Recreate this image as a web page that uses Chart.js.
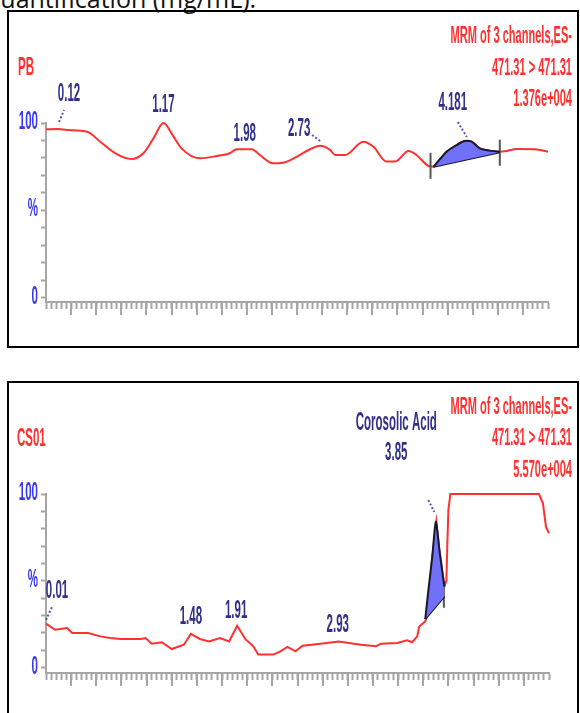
<!DOCTYPE html>
<html>
<head>
<meta charset="utf-8">
<script src="https://cdn.jsdelivr.net/npm/chart.js@4.4.1/dist/chart.umd.min.js"></script>
<style>
  html, body { margin: 0; padding: 0; background: #fff; }
  body { width: 580px; height: 713px; position: relative; overflow: hidden; }
  #caption { position: absolute; left: -15px; top: -14px; font: 25px/24px "Open Sans", sans-serif; color: #111; white-space: nowrap; }
  .panel { position: absolute; left: 7px; width: 572px; box-sizing: border-box; border: 2px solid #000; }
  canvas { position: absolute; left: 0; }
</style>
</head>
<body>
<div id="caption">quantification (mg/mL).</div>
<div class="panel" style="top:10px;height:338px"></div>
<div class="panel" style="top:381px;height:345px"></div>
<canvas id="pbChart" width="580" height="360" style="top:0"></canvas>
<canvas id="csChart" width="580" height="353" style="top:360px"></canvas>
<script>
// x = retention time (min), y = relative intensity (%)
const yTicks = [0, 10, 20, 30, 40, 50, 60, 70, 80, 90, 100];
const yLabelValues = [100, 50, 0];
const yLabelTexts = ['100', '%', '0'];

// PB channel
const pbChannel = 'PB';
const pbHeader = ['MRM of 3 channels,ES-', '471.31 > 471.31', '1.376e+004'];
const pbTimes = [0.00,0.12,0.21,0.41,0.54,0.70,0.85,0.97,1.07,1.17,1.27,1.35,1.53,1.70,1.83,1.90,2.05,2.13,2.26,2.36,2.50,2.63,2.73,2.83,2.88,2.98,3.16,3.26,3.39,3.48,3.61,3.69,3.81,3.86,3.99,4.09,4.17,4.24,4.32,4.42,4.52,4.59,4.69,4.87,5.00];
const pbIntensity = [96.4,96.5,96,95,89.3,82.3,79.4,82.7,91.2,100,92.2,85.5,79.8,81.1,82.7,85,85,81.7,77,77.3,80.8,85,87,84.6,81.7,81.7,89.3,86.5,78,78,84,81.7,75.4,75,83.6,87.4,89.7,89.3,85.5,84.2,83.6,84,85.1,85,83.6];
const pbAreaTimes = [3.86,3.99,4.09,4.17,4.24,4.32,4.42,4.52];
const pbAreaIntensity = [75,83.6,87.4,89.7,89.3,85.5,84.2,83.6];
const pbBaseTimes = [3.86, 4.52];
const pbBaseIntensity = [75, 83.2];
const pbCutTimes = [3.83, 4.52];
const pbCutIntensity = [75.5, 83];
const pbPeakRT = [0.12, 1.17, 1.98, 2.73, 4.181];
const pbPeakLabels = ['0.12', '1.17', '1.98', '2.73', '4.181'];
const pbPeakNames = ['', '', '', '', ''];

// CS01 channel
const csChannel = 'CS01';
const csHeader = ['MRM of 3 channels,ES-', '471.31 > 471.31', '5.570e+004'];
const csTimes = [0.00,0.09,0.21,0.26,0.42,0.54,0.64,0.74,0.94,0.99,1.05,1.15,1.25,1.37,1.44,1.53,1.62,1.73,1.82,1.90,1.98,2.06,2.11,2.26,2.33,2.40,2.48,2.55,2.73,2.91,3.13,3.28,3.33,3.49,3.59,3.64,3.69,3.71,3.77,3.78,3.81,3.84,3.88,3.91,3.94,3.96,3.98,3.99,4.00,4.02,4.90,4.94,4.97,5.00];
const csIntensity = [25.3,21.8,22.8,19.9,19.9,18,17,16.5,16.5,17,13.8,14.6,10.7,13.2,19.4,16.5,15.1,17,15.1,24.1,16.5,12.3,7.5,7.5,9.4,11.9,9.4,12.6,13.8,15.1,13.2,12.3,13.8,14.2,15.7,14.6,18,23.7,26.6,28.5,45,64,84,68,55,46.7,50,72,91,100,100,94.6,81,77.4];
const csAreaTimes = [3.77,3.80,3.84,3.875,3.91,3.94,3.96];
const csAreaIntensity = [28,44,64,84,68,55,46.7];
const csBaseTimes = [3.77, 3.96];
const csBaseIntensity = [28, 41];
const csCutTimes = [3.955];
const csCutIntensity = [42];
const csPeakRT = [0.01, 1.48, 1.91, 2.93, 3.85];
const csPeakLabels = ['0.01', '1.48', '1.91', '2.93', '3.85'];
const csPeakNames = ['', '', '', '', 'Corosolic Acid'];

const RED = '#ff3030', NAVY = '#30308a', BLUE = '#3838f0', GRAY = '#a6a6a6';
const SQUEEZE = 0.46; // the instrument font is very narrow

function pts(xs, ys) { return xs.map((x, i) => ({ x: x, y: ys[i] })); }

function squeezed(ctx, text, x, yMid, size, color, align) {
  ctx.save();
  ctx.font = 'bold ' + size + 'px "Liberation Sans", Arial, sans-serif';
  ctx.fillStyle = color;
  ctx.textAlign = align || 'center';
  ctx.textBaseline = 'alphabetic';
  ctx.translate(x, yMid + size * 0.36);
  ctx.scale(SQUEEZE, 1);
  ctx.fillText(text, 0, 0);
  ctx.restore();
}

// labels, long ticks, peak annotations
const msText = {
  id: 'msText',
  afterDraw(chart, args, o) {
    const ctx = chart.ctx, x = chart.scales.x, y = chart.scales.y;
    const top = y.getPixelForValue(100);

    squeezed(ctx, o.channel, o.channelAt[0], o.channelAt[1], 25, RED, 'left');
    o.header.forEach((t, i) => squeezed(ctx, t, o.headerRight, o.headerY[i], 24, RED, 'right'));
    yLabelTexts.forEach((t, i) => squeezed(ctx, t, x.left - 8, y.getPixelForValue(yLabelValues[i]) - 3, 25, BLUE, 'right'));

    ctx.save();
    ctx.strokeStyle = GRAY;
    ctx.lineWidth = 2;
    x.ticks.forEach((t, i) => {
      if (i % 5 || i === 0 || i === x.ticks.length - 1) return;
      const px = Math.round(x.getPixelForValue(t.value));
      ctx.beginPath();
      ctx.moveTo(px, x.top);
      ctx.lineTo(px, x.top + 13);
      ctx.stroke();
    });
    ctx.restore();

    o.rt.forEach((rt, i) => {
      const px = x.getPixelForValue(rt);
      const p = o.place[i];
      squeezed(ctx, o.labels[i], px + p[0], top + p[1], 25, NAVY);
      if (o.names[i]) squeezed(ctx, o.names[i], px + p[0], top + p[1] - 30, 25, NAVY);
      const l = o.leaders[i];
      if (l) {
        ctx.save();
        ctx.strokeStyle = '#5656a8';
        ctx.lineWidth = 2;
        ctx.setLineDash([2, 2]);
        ctx.beginPath();
        ctx.moveTo(px + l[0], top + l[1]);
        ctx.lineTo(px + l[2], top + l[3]);
        ctx.stroke();
        ctx.restore();
      }
    });
  }
};

function minorTicks() {
  const out = [];
  for (let k = 0; k <= 100; k++) out.push({ value: k / 20 });
  return out;
}

function buildChart(id, d, look) {
  return new Chart(document.getElementById(id), {
    type: 'line',
    data: {
      datasets: [
        { data: pts(d.areaT, d.areaI), borderColor: '#18182a', borderWidth: 2, backgroundColor: '#7070f8', fill: '+1', pointRadius: 0, tension: 0.25 },
        { data: pts(d.baseT, d.baseI), borderColor: '#18182a', borderWidth: 2, pointRadius: 0, fill: false },
        { data: pts(d.cutT, d.cutI), showLine: false, pointStyle: 'line', rotation: 90, pointRadius: 13, pointBorderColor: '#555', pointBorderWidth: 2 },
        { data: pts(d.t, d.i), borderColor: RED, borderWidth: 2, pointRadius: 0, fill: false,
          cubicInterpolationMode: look.smooth ? 'monotone' : 'default', tension: 0, clip: 6 }
      ]
    },
    options: {
      responsive: false,
      animation: false,
      events: [],
      layout: { padding: look.padding },
      plugins: { legend: { display: false }, tooltip: { enabled: false }, msText: look.text },
      scales: {
        x: {
          type: 'linear', min: 0, max: 5,
          afterBuildTicks: s => { s.ticks = minorTicks(); },
          afterFit: s => { s.height = 20; },
          ticks: { display: false },
          grid: { drawOnChartArea: false, tickLength: 7, tickWidth: 2, tickColor: GRAY },
          border: { color: GRAY, width: 2 }
        },
        y: {
          min: look.yMin, max: 100,
          afterBuildTicks: s => { s.ticks = yTicks.map(v => ({ value: v })); },
          afterFit: s => { s.width = 46; },
          ticks: { display: false },
          grid: { drawOnChartArea: false, tickLength: 5, tickWidth: 2, tickColor: GRAY },
          border: { color: GRAY, width: 2 }
        }
      }
    },
    plugins: [msText]
  });
}

buildChart('pbChart',
  { t: pbTimes, i: pbIntensity, areaT: pbAreaTimes, areaI: pbAreaIntensity,
    baseT: pbBaseTimes, baseI: pbBaseIntensity, cutT: pbCutTimes, cutI: pbCutIntensity },
  { smooth: true, yMin: -2.4,
    padding: { left: 0, right: 32, top: 123, bottom: 38 },
    text: { channel: pbChannel, channelAt: [18, 66], header: pbHeader, headerRight: 572, headerY: [34, 66, 97],
            rt: pbPeakRT, labels: pbPeakLabels, names: pbPeakNames,
            place: [[11, -31], [0, -20], [0, 9], [-21, 4], [-13, -22]],
            leaders: [[1, -1, 6, -13], null, null, [-8, 12, 0, 18], [-8, -1, 1, 14]] } });

buildChart('csChart',
  { t: csTimes, i: csIntensity, areaT: csAreaTimes, areaI: csAreaIntensity,
    baseT: csBaseTimes, baseI: csBaseIntensity, cutT: csCutTimes, cutI: csCutIntensity },
  { smooth: false, yMin: -3.1,
    padding: { left: 0, right: 31, top: 134, bottom: 20 },
    text: { channel: csChannel, channelAt: [17, 77], header: csHeader, headerRight: 572, headerY: [45, 76, 108],
            rt: csPeakRT, labels: csPeakLabels, names: csPeakNames,
            place: [[10, 95], [-4, 121], [-2, 115], [-3, 129], [-37, -43]],
            leaders: [[-1, 126, 5, 113], null, null, null, [-5, 6, 1, 18]] } });
</script>
</body>
</html>
